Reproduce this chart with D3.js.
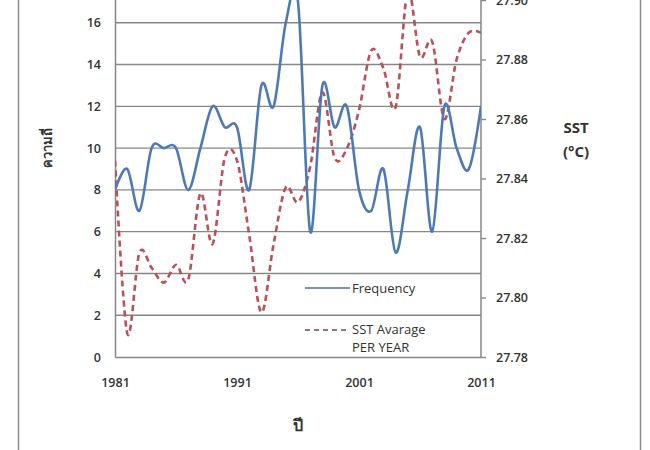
<!DOCTYPE html>
<html>
<head>
<meta charset="utf-8">
<script src="https://cdn.jsdelivr.net/npm/d3@7"></script>
<style>
  html, body { margin: 0; padding: 0; background: #fff; }
  svg text { font-family: "Open Sans", "Noto Sans", sans-serif; fill: #333; }
</style>
</head>
<body>
<div id="chart"></div>
<script>
// years on the x axis
const years = d3.range(1981, 2012);
const xTicks = [1981, 1991, 2001, 2011];

// number of events per year (left axis)
const frequency = [8, 9, 7, 10, 10, 10, 8, 10, 12, 11, 11, 8, 13, 12, 16, 17,
                   6, 13, 11, 12, 8, 7, 9, 5, 8, 11, 6, 12, 10, 9, 12];

// SST average per year, degC (right axis)
const sst = [27.846, 27.788, 27.815, 27.810, 27.805, 27.811, 27.806, 27.835,
             27.818, 27.847, 27.846, 27.821, 27.795, 27.818, 27.837, 27.832,
             27.844, 27.869, 27.847, 27.850, 27.863, 27.883, 27.877, 27.864,
             27.903, 27.881, 27.886, 27.860, 27.880, 27.889, 27.889];

const leftTicks = d3.range(0, 17, 2);
const rightTicks = [27.78, 27.80, 27.82, 27.84, 27.86, 27.88, 27.90];

const width = 650, height = 450;
const plot = { left: 115, right: 481, top: -19, bottom: 357 };

const svg = d3.select("#chart").append("svg")
    .attr("width", width)
    .attr("height", height);

// outer frame of the chart
svg.append("rect")
    .attr("x", 18.5).attr("y", -10)
    .attr("width", 622).attr("height", 470)
    .attr("fill", "none")
    .attr("stroke", "#8c8c8c")
    .attr("stroke-width", 1.5);

const x = d3.scaleLinear().domain([1981, 2011]).range([plot.left, plot.right]);
const yLeft = d3.scaleLinear().domain([0, 18]).range([plot.bottom, plot.top]);
// right axis: 0.02 degC per 59.5 px
const yRight = d3.scaleLinear().domain([27.78, 27.90]).range([plot.bottom, plot.bottom - 6 * 59.5]);

svg.append("defs").append("clipPath").attr("id", "plotClip")
  .append("rect")
    .attr("x", plot.left).attr("y", plot.top)
    .attr("width", plot.right - plot.left).attr("height", plot.bottom - plot.top);

// horizontal gridlines
svg.append("g")
  .selectAll("line")
  .data(leftTicks.filter(d => d > 0))
  .join("line")
    .attr("x1", plot.left).attr("x2", plot.right)
    .attr("y1", d => yLeft(d)).attr("y2", d => yLeft(d))
    .attr("stroke", "#878787")
    .attr("stroke-width", 1.4);

const tickFont = sel => sel.selectAll("text")
    .style("font-size", "12.5px").style("font-weight", "600").attr("fill", "#3a3a3a");

// left axis
const leftAxis = svg.append("g")
    .attr("transform", `translate(${plot.left},0)`)
    .call(d3.axisLeft(yLeft).tickValues(leftTicks).tickSize(0).tickPadding(14));
leftAxis.select(".domain").attr("stroke", "#878787").attr("stroke-width", 1.5);
tickFont(leftAxis);

// right axis
const rightAxis = svg.append("g")
    .attr("transform", `translate(${plot.right},0)`)
    .call(d3.axisRight(yRight).tickValues(rightTicks).tickSize(5).tickSizeOuter(0)
        .tickPadding(10).tickFormat(d3.format(".2f")));
rightAxis.select(".domain").attr("stroke", "#878787").attr("stroke-width", 1.5)
    .attr("d", `M0,${plot.top}V${plot.bottom}`);
rightAxis.selectAll("line").attr("stroke", "#878787").attr("stroke-width", 1.4);
tickFont(rightAxis);

// bottom axis
const bottomAxis = svg.append("g")
    .attr("transform", `translate(0,${plot.bottom})`)
    .call(d3.axisBottom(x).tickValues(xTicks).tickSize(0).tickPadding(21).tickFormat(d3.format("d")));
bottomAxis.select(".domain").attr("stroke", "#878787").attr("stroke-width", 1.5);
tickFont(bottomAxis);

const curve = d3.curveCardinal.tension(0);

const plotG = svg.append("g").attr("clip-path", "url(#plotClip)");

// SST line (dashed)
plotG.append("path")
    .datum(sst)
    .attr("fill", "none")
    .attr("stroke", "#b9505a")
    .attr("stroke-width", 2.6)
    .attr("stroke-dasharray", "6,4")
    .attr("d", d3.line().x((d, i) => x(years[i])).y(d => yRight(d)).curve(curve));

// frequency line
plotG.append("path")
    .datum(frequency)
    .attr("fill", "none")
    .attr("stroke", "#4f79b4")
    .attr("stroke-width", 2.6)
    .attr("d", d3.line().x((d, i) => x(years[i])).y(d => yLeft(d)).curve(curve));

// legend
const legend = svg.append("g");
const legendText = (y, label) => legend.append("text").attr("x", 352).attr("y", y)
    .style("font-size", "13px").attr("fill", "#333").text(label);
legend.append("line")
    .attr("x1", 305).attr("x2", 350).attr("y1", 288).attr("y2", 288)
    .attr("stroke", "#4f6f9f").attr("stroke-width", 1.6);
legendText(293, "Frequency");
legend.append("line")
    .attr("x1", 305).attr("x2", 350).attr("y1", 330).attr("y2", 330)
    .attr("stroke", "#6a4a55").attr("stroke-width", 1.6)
    .attr("stroke-dasharray", "5,4");
legendText(334, "SST Avarage");
legendText(352, "PER YEAR");

// axis titles
svg.append("text")
    .attr("transform", "translate(52,148) rotate(-90)")
    .attr("text-anchor", "middle")
    .style("font-size", "13px").style("font-weight", "bold").attr("fill", "#222")
    .text("ความถี่");

svg.append("text")
    .attr("x", 298).attr("y", 431)
    .attr("text-anchor", "middle")
    .style("font-size", "16px").style("font-weight", "bold").attr("fill", "#222")
    .text("ปี");

svg.append("text")
    .attr("x", 576).attr("y", 133)
    .attr("text-anchor", "middle")
    .style("font-size", "15px").style("font-weight", "bold").attr("fill", "#222")
    .text("SST");
svg.append("text")
    .attr("x", 576).attr("y", 157)
    .attr("text-anchor", "middle")
    .style("font-size", "15px").style("font-weight", "bold").attr("fill", "#222")
    .text("(°C)");
</script>
</body>
</html>
